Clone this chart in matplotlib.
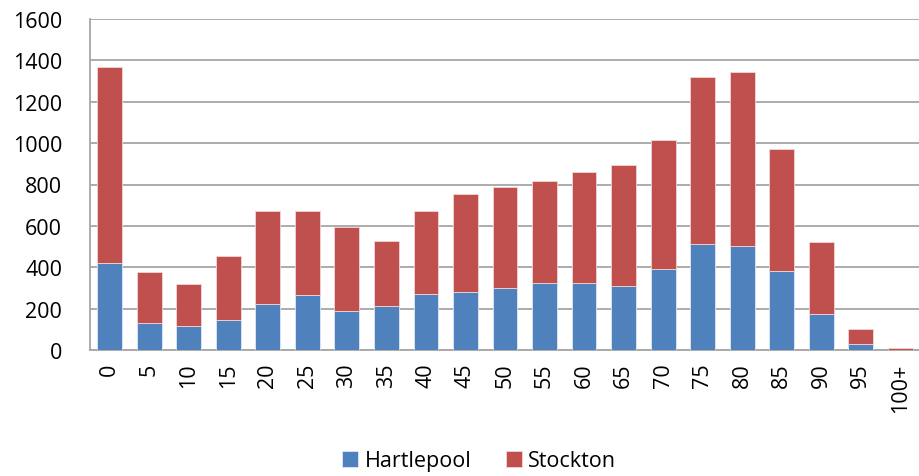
import numpy as np
import matplotlib
matplotlib.use("Agg")
import matplotlib.pyplot as plt

ages = ["0", "5", "10", "15", "20", "25", "30", "35", "40", "45", "50",
        "55", "60", "65", "70", "75", "80", "85", "90", "95", "100+"]
hartlepool = [421, 132, 118, 145, 224, 267, 187, 212, 273, 280, 299,
              323, 323, 311, 393, 513, 504, 384, 176, 27, 1]
totals = [1367, 378, 317, 453, 670, 670, 595, 528, 670, 756, 786,
          817, 860, 892, 1015, 1319, 1343, 971, 521, 100, 8]
stockton = [t - h for t, h in zip(totals, hartlepool)]

plt.rcParams['font.family'] = ['Open Sans', 'DejaVu Sans']

fig = plt.figure(figsize=(9.2, 4.77), dpi=100)
ax = fig.add_axes([90 / 920, 1 - 351 / 477, 830 / 920, 331 / 477])

x = np.arange(len(ages))
ax.bar(x, hartlepool, width=0.63, color='#4F81BD', edgecolor='#dfe8f4',
       linewidth=0.6, label='Hartlepool', zorder=3)
ax.bar(x, stockton, width=0.63, bottom=hartlepool, color='#C0504D',
       edgecolor='#f0d6d5', linewidth=0.6, label='Stockton', zorder=3)

ax.set_xlim(-0.5, len(ages) - 0.5)
ax.set_ylim(0, 1600)
ax.set_yticks(range(0, 1601, 200))
ax.set_xticks(x)
ax.set_xticklabels(ages, rotation=90, fontsize=15.5)
ax.tick_params(axis='y', labelsize=15.5, length=0, pad=20)
ax.tick_params(axis='x', length=0, pad=9)

ax.grid(axis='y', color='#a6a6a6', linewidth=1.3, zorder=0)
for s in ['top', 'right']:
    ax.spines[s].set_visible(False)
for s in ['left', 'bottom']:
    ax.spines[s].set_color('#a6a6a6')
    ax.spines[s].set_linewidth(1.3)

fig.legend(loc='center', bbox_to_anchor=(479 / 920, 1 - 462 / 477), ncol=2,
           frameon=False, fontsize=15.5, handlelength=0.75, handleheight=0.75,
           handletextpad=0.3, columnspacing=1.6)

fig.savefig('out.png', dpi=100)
